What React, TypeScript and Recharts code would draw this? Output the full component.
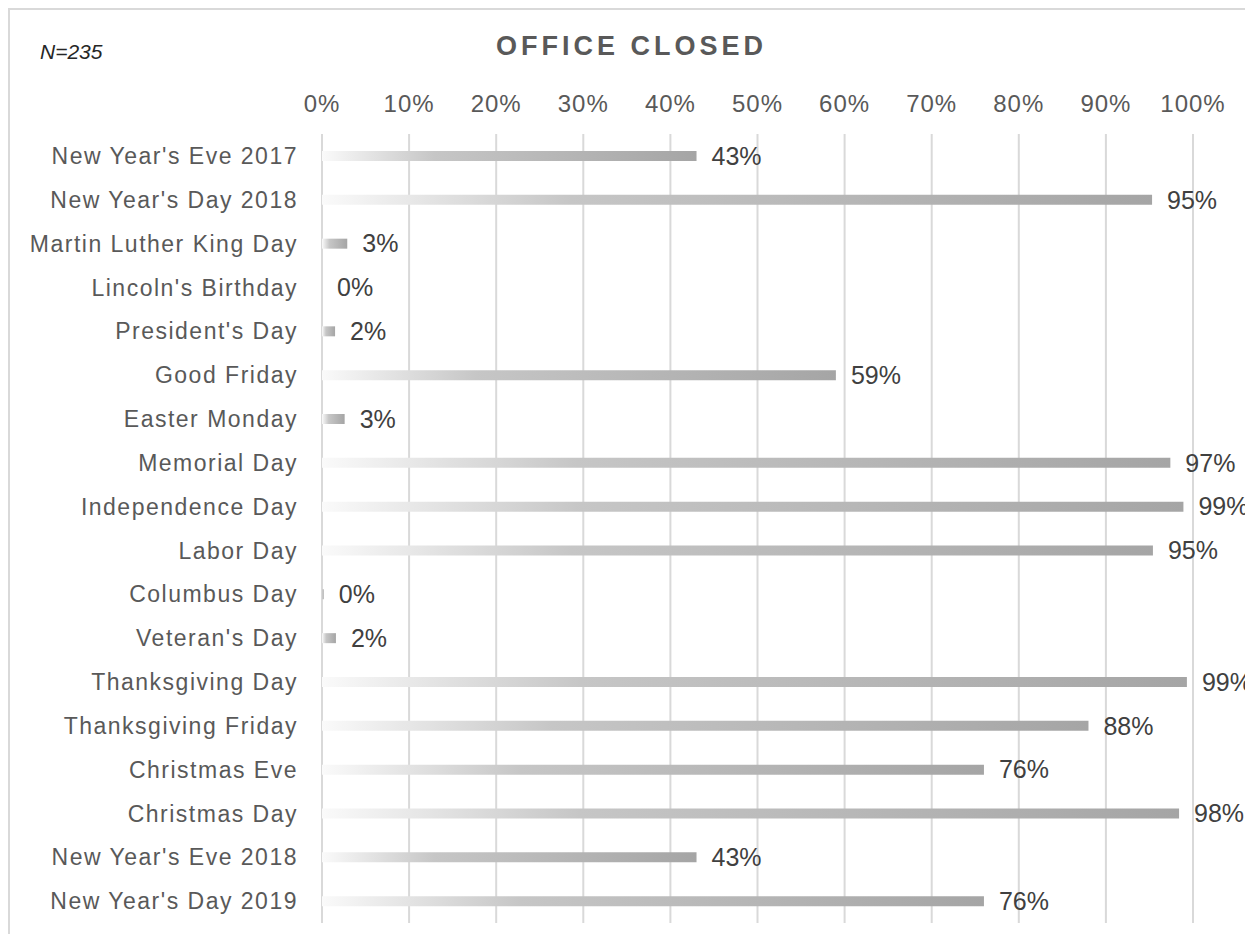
import { ComposedChart, Bar, Scatter, XAxis, YAxis, CartesianGrid } from 'recharts'

const holidays = [
  "New Year's Eve 2017",
  "New Year's Day 2018",
  'Martin Luther King Day',
  "Lincoln's Birthday",
  "President's Day",
  'Good Friday',
  'Easter Monday',
  'Memorial Day',
  'Independence Day',
  'Labor Day',
  'Columbus Day',
  "Veteran's Day",
  'Thanksgiving Day',
  'Thanksgiving Friday',
  'Christmas Eve',
  'Christmas Day',
  "New Year's Eve 2018",
  "New Year's Day 2019"
]

// share of offices closed, in percent
const closedPct = [43, 95.3, 2.9, 0, 1.5, 59, 2.6, 97.4, 98.9, 95.4, 0.2, 1.6, 99.3, 88, 76, 98.4, 43, 76]

const pctTicks = [0, 10, 20, 30, 40, 50, 60, 70, 80, 90, 100]

const sampleSize = 235

const data = holidays.map((name, i) => ({ name, closed: closedPct[i] }))

// value label placed at the bar end (scatter point), so zero bars get one too
const ValueLabel = (props: any) => {
  const { cx, cy, payload } = props
  if (cx == null || cy == null) return null
  return (
    <text x={cx + 15} y={cy} dy="0.355em" fill="#404040" fontSize={25} textAnchor="start">
      {`${Math.round(payload.closed)}%`}
    </text>
  )
}

export default function App() {
  return (
    <div
      style={{
        position: 'relative',
        width: 1250,
        height: 924,
        borderTop: '2px solid #d9d9d9',
        borderLeft: '2px solid #d9d9d9',
        background: '#fff',
        fontFamily: '"Liberation Sans", Arial, sans-serif'
      }}
    >
      <style>{'body{overflow:hidden} .recharts-surface{overflow:visible}'}</style>
      <div
        style={{
          position: 'absolute',
          left: 30,
          top: 30,
          fontSize: 21,
          fontStyle: 'italic',
          color: '#262626'
        }}
      >
        N={sampleSize}
      </div>
      <div
        style={{
          position: 'absolute',
          left: 0,
          width: 1243,
          top: 21,
          textAlign: 'center',
          fontSize: 27,
          fontWeight: 'bold',
          letterSpacing: 4,
          color: '#595959'
        }}
      >
        OFFICE CLOSED
      </div>
      <ComposedChart
        width={1241}
        height={924}
        data={data}
        layout="vertical"
        margin={{ top: 94, right: 58, left: 0, bottom: 11 }}
        barCategoryGap={0}
      >
        <defs>
          <linearGradient id="barGrad" x1="0" y1="0" x2="1" y2="0">
            <stop offset="0%" stopColor="#fafafa" />
            <stop offset="30%" stopColor="#c6c6c6" />
            <stop offset="100%" stopColor="#a5a5a5" />
          </linearGradient>
        </defs>
        <CartesianGrid horizontal={false} stroke="#d9d9d9" strokeWidth={2} />
        <XAxis
          type="number"
          orientation="top"
          domain={[0, 100]}
          ticks={pctTicks}
          tickFormatter={(v: number) => `${v}%`}
          axisLine={false}
          tickLine={false}
          height={30}
          tickMargin={16}
          tick={{ fill: '#595959', fontSize: 24, letterSpacing: 1 }}
        />
        <YAxis
          type="category"
          dataKey="name"
          width={312}
          axisLine={false}
          tickLine={false}
          tickMargin={18}
          interval={0}
          tick={{ fill: '#595959', fontSize: 23, letterSpacing: 1.5 }}
        />
        <Bar dataKey="closed" fill="url(#barGrad)" barSize={10} isAnimationActive={false} />
        <Scatter dataKey="closed" shape={ValueLabel} isAnimationActive={false} />
      </ComposedChart>
    </div>
  )
}
